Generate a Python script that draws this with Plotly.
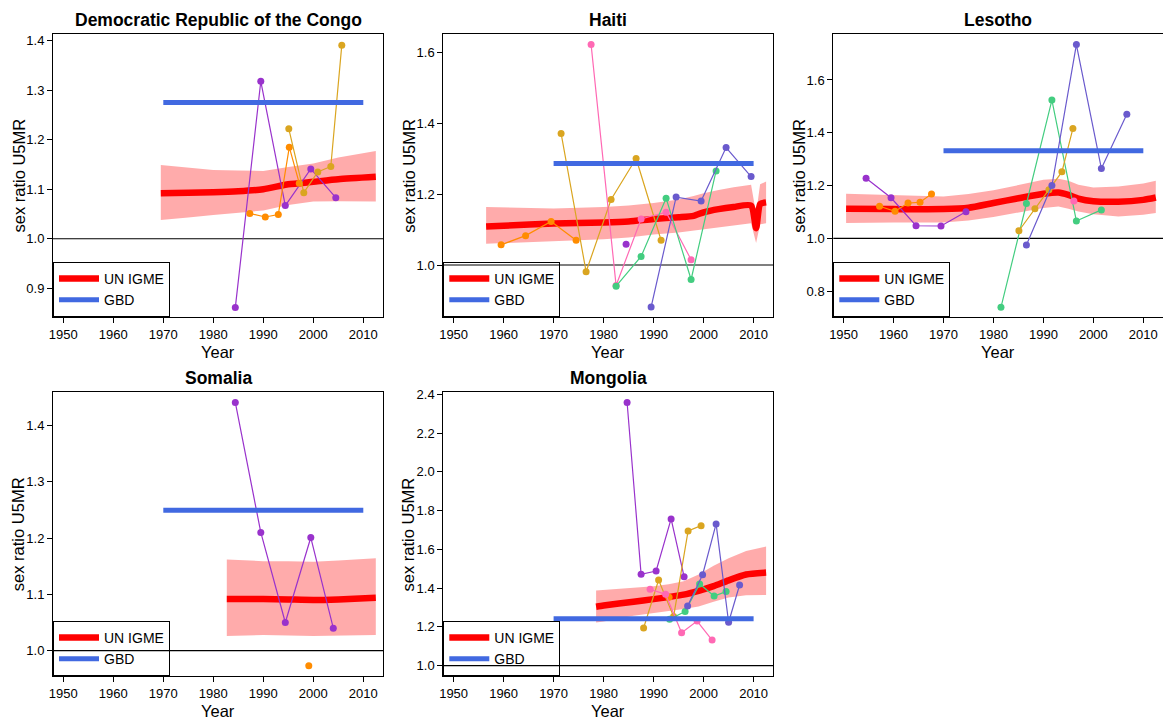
import plotly.graph_objects as go

# ---------------- DATA ----------------
X_TICKS = [1950, 1960, 1970, 1980, 1990, 2000, 2010]
GBD_YEARS = [1970, 2010]
REF_LINE = 1.0

# Democratic Republic of the Congo
DRC_IGME_YEAR = [1969.5, 1975, 1980, 1985, 1990, 1995, 2000, 2005, 2012.5]
DRC_IGME_MED = [1.092, 1.093, 1.094, 1.096, 1.100, 1.110, 1.115, 1.120, 1.125]
DRC_IGME_LO = [1.038, 1.043, 1.048, 1.053, 1.057, 1.068, 1.075, 1.076, 1.075]
DRC_IGME_HI = [1.149, 1.143, 1.139, 1.138, 1.137, 1.145, 1.152, 1.164, 1.177]
DRC_GBD = 1.275
DRC_YTICKS = [0.9, 1.0, 1.1, 1.2, 1.3, 1.4]
DRC_SERIES = [
    ("A", [1984.4, 1989.5, 1994.4, 1999.5, 2004.5], [0.861, 1.318, 1.067, 1.141, 1.083]),
    ("B", [1987.3, 1990.4, 1993.0, 1995.2, 1997.2], [1.051, 1.044, 1.049, 1.185, 1.112]),
    ("C", [1995.1, 1998.1, 2000.9, 2003.5, 2005.7], [1.222, 1.093, 1.135, 1.146, 1.391]),
]

# Haiti
HAITI_IGME_YEAR = [1956.5, 1960, 1970, 1980, 1985, 1990, 1995, 1998, 2000, 2003, 2006, 2009.5, 2010.5, 2011.3, 2012.5]
HAITI_IGME_MED = [1.109, 1.111, 1.117, 1.120, 1.123, 1.130, 1.135, 1.139, 1.149, 1.158, 1.164, 1.168, 1.104, 1.172, 1.177]
HAITI_IGME_LO = [1.060, 1.062, 1.067, 1.073, 1.078, 1.086, 1.092, 1.097, 1.100, 1.107, 1.112, 1.118, 1.062, 1.115, 1.118]
HAITI_IGME_HI = [1.164, 1.163, 1.160, 1.164, 1.168, 1.175, 1.185, 1.195, 1.203, 1.212, 1.220, 1.227, 1.145, 1.228, 1.236]
HAITI_GBD = 1.287
HAITI_YTICKS = [1.0, 1.2, 1.4, 1.6]
HAITI_SERIES = [
    ("B", [1959.5, 1964.4, 1969.5, 1974.5], [1.057, 1.083, 1.123, 1.070]),
    ("C", [1971.5, 1976.5, 1981.5, 1986.5, 1991.5], [1.372, 0.981, 1.185, 1.301, 1.070]),
    ("D", [1977.5, 1982.5, 1987.5, 1992.5, 1997.5], [1.623, 0.942, 1.130, 1.149, 1.015]),
    ("A", [1984.5], [1.059]),
    ("E", [1982.5, 1987.5, 1992.5, 1997.5, 2002.5], [0.940, 1.024, 1.189, 0.959, 1.266]),
    ("F", [1989.5, 1994.5, 1999.5, 2004.5, 2009.5], [0.881, 1.192, 1.181, 1.332, 1.250]),
]

# Lesotho
LESOTHO_IGME_YEAR = [1950.5, 1960, 1970, 1975, 1980, 1985, 1990, 1993, 1995, 1997, 2000, 2005, 2010, 2012.5]
LESOTHO_IGME_MED = [1.112, 1.111, 1.111, 1.116, 1.134, 1.152, 1.169, 1.174, 1.165, 1.151, 1.141, 1.139, 1.146, 1.155]
LESOTHO_IGME_LO = [1.058, 1.060, 1.060, 1.068, 1.081, 1.098, 1.115, 1.121, 1.112, 1.102, 1.092, 1.083, 1.090, 1.096]
LESOTHO_IGME_HI = [1.169, 1.165, 1.159, 1.168, 1.182, 1.202, 1.222, 1.226, 1.218, 1.203, 1.193, 1.197, 1.208, 1.218]
LESOTHO_GBD = 1.3315
LESOTHO_YTICKS = [0.8, 1.0, 1.2, 1.4, 1.6]
LESOTHO_SERIES = [
    ("A", [1954.5, 1959.5, 1964.5, 1969.5, 1974.5], [1.228, 1.154, 1.048, 1.047, 1.101]),
    ("B", [1957.2, 1960.3, 1962.9, 1965.3, 1967.6], [1.122, 1.103, 1.134, 1.137, 1.168]),
    ("E", [1981.5, 1986.6, 1991.7, 1996.6, 2001.6], [0.739, 1.132, 1.524, 1.066, 1.108]),
    ("C", [1985.1, 1988.3, 1991.1, 1993.7, 1995.9], [1.029, 1.112, 1.184, 1.252, 1.416]),
    ("F", [1986.6, 1991.7, 1996.6, 2001.6, 2006.7], [0.975, 1.200, 1.734, 1.265, 1.470]),
    ("D", [1996.1], [1.142]),
]

# Somalia
SOMALIA_IGME_YEAR = [1982.7, 1990, 1995, 2000, 2005, 2012.5]
SOMALIA_IGME_MED = [1.092, 1.092, 1.091, 1.090, 1.091, 1.094]
SOMALIA_IGME_LO = [1.026, 1.028, 1.027, 1.026, 1.027, 1.028]
SOMALIA_IGME_HI = [1.162, 1.159, 1.159, 1.158, 1.160, 1.164]
SOMALIA_GBD = 1.2495
SOMALIA_YTICKS = [1.0, 1.1, 1.2, 1.3, 1.4]
SOMALIA_SERIES = [
    ("A", [1984.4, 1989.5, 1994.4, 1999.5, 2004.0], [1.441, 1.210, 1.050, 1.201, 1.040]),
    ("B", [1999.1], [0.973]),
]

# Mongolia
MONGOLIA_IGME_YEAR = [1978.5, 1980, 1986, 1990, 1993, 1996, 1999, 2002, 2005, 2008.5, 2012.5]
MONGOLIA_IGME_MED = [1.304, 1.310, 1.330, 1.343, 1.354, 1.366, 1.386, 1.410, 1.440, 1.470, 1.480]
MONGOLIA_IGME_LO = [1.222, 1.228, 1.258, 1.272, 1.282, 1.292, 1.305, 1.330, 1.352, 1.363, 1.365]
MONGOLIA_IGME_HI = [1.387, 1.390, 1.402, 1.410, 1.420, 1.435, 1.470, 1.515, 1.554, 1.592, 1.614]
MONGOLIA_GBD = 1.2425
MONGOLIA_YTICKS = [1.0, 1.2, 1.4, 1.6, 1.8, 2.0, 2.2, 2.4]
MONGOLIA_SERIES = [
    ("A", [1984.7, 1987.5, 1990.5, 1993.5, 1996.1], [2.357, 1.471, 1.488, 1.757, 1.459]),
    ("C", [1988.0, 1991.0, 1994.0, 1996.9, 1999.5], [1.194, 1.442, 1.253, 1.695, 1.722]),
    ("B", [1993.1], [1.353]),
    ("D", [1989.3, 1992.4, 1995.6, 1998.7, 2001.7], [1.394, 1.368, 1.170, 1.230, 1.132]),
    ("E", [1993.2, 1996.3, 1999.2, 2002.1, 2004.5], [1.239, 1.279, 1.421, 1.359, 1.382]),
    ("F", [1996.8, 1999.8, 2002.5, 2005.0, 2007.2], [1.308, 1.469, 1.731, 1.224, 1.416]),
]

# ---------------- STYLE ----------------
SOURCE_COLORS = {"A": "#9932CC", "B": "#FF8C00", "C": "#DAA520",
                 "D": "#FF69B4", "E": "#43CD80", "F": "#6A5ACD"}
FONT = "Liberation Sans, Arial, Helvetica, sans-serif"
W, H = 1163, 719

PANELS = [
    dict(title="Democratic Republic of the Congo", year=DRC_IGME_YEAR, med=DRC_IGME_MED, lo=DRC_IGME_LO,
         hi=DRC_IGME_HI, gbd=DRC_GBD, yticks=DRC_YTICKS, series=DRC_SERIES,
         px=(53, 383), py=(34, 317), yrange=(0.842, 1.4135)),
    dict(title="Haiti", year=HAITI_IGME_YEAR, med=HAITI_IGME_MED, lo=HAITI_IGME_LO,
         hi=HAITI_IGME_HI, gbd=HAITI_GBD, yticks=HAITI_YTICKS, series=HAITI_SERIES,
         px=(443.3, 773.3), py=(34, 317), yrange=(0.853, 1.653)),
    dict(title="Lesotho", year=LESOTHO_IGME_YEAR, med=LESOTHO_IGME_MED, lo=LESOTHO_IGME_LO,
         hi=LESOTHO_IGME_HI, gbd=LESOTHO_GBD, yticks=LESOTHO_YTICKS, series=LESOTHO_SERIES,
         px=(833.3, 1163), py=(34, 317), yrange=(0.7025, 1.774)),
    dict(title="Somalia", year=SOMALIA_IGME_YEAR, med=SOMALIA_IGME_MED, lo=SOMALIA_IGME_LO,
         hi=SOMALIA_IGME_HI, gbd=SOMALIA_GBD, yticks=SOMALIA_YTICKS, series=SOMALIA_SERIES,
         px=(53, 383), py=(392.3, 676), yrange=(0.955, 1.459)),
    dict(title="Mongolia", year=MONGOLIA_IGME_YEAR, med=MONGOLIA_IGME_MED, lo=MONGOLIA_IGME_LO,
         hi=MONGOLIA_IGME_HI, gbd=MONGOLIA_GBD, yticks=MONGOLIA_YTICKS, series=MONGOLIA_SERIES,
         px=(443.3, 773.3), py=(392.3, 676), yrange=(0.9466, 2.410)),
]
X_RANGE = (1947.94, 2013.94)

fig = go.Figure()
annotations = []
shapes = []
layout_extra = {}

for i, p in enumerate(PANELS, start=1):
    sfx = "" if i == 1 else str(i)
    xa, ya = "x" + sfx, "y" + sfx
    lg = "legend" + sfx
    # band
    fig.add_trace(go.Scatter(x=p["year"] + p["year"][::-1], y=p["hi"] + p["lo"][::-1],
                             fill="toself", fillcolor="rgba(255,0,0,0.33)", line=dict(width=0),
                             mode="lines", hoverinfo="skip", showlegend=False, xaxis=xa, yaxis=ya))
    # UN IGME
    fig.add_trace(go.Scatter(x=p["year"], y=p["med"], mode="lines", name="UN IGME",
                             line=dict(color="#FF0000", width=6.5, shape="spline", smoothing=0.6),
                             legend=lg, showlegend=True, xaxis=xa, yaxis=ya))
    # data series
    for src, yrs, vals in p["series"]:
        fig.add_trace(go.Scatter(x=yrs, y=vals, mode="lines+markers",
                                 line=dict(color=SOURCE_COLORS[src], width=1.2),
                                 marker=dict(color=SOURCE_COLORS[src], size=7),
                                 showlegend=False, xaxis=xa, yaxis=ya))
    # GBD
    fig.add_trace(go.Scatter(x=GBD_YEARS, y=[p["gbd"]] * len(GBD_YEARS), mode="lines", name="GBD",
                             line=dict(color="#4169E1", width=5),
                             legend=lg, showlegend=True, xaxis=xa, yaxis=ya))

    x0, x1 = p["px"][0] / W, p["px"][1] / W
    y0, y1 = 1 - p["py"][1] / H, 1 - p["py"][0] / H
    axis_common = dict(showline=True, mirror=True, linecolor="black", linewidth=1,
                       ticks="outside", ticklen=5, tickcolor="black", tickwidth=1,
                       showgrid=False, zeroline=False, automargin=False,
                       tickfont=dict(family=FONT, size=13, color="black"))
    layout_extra["xaxis" + sfx] = dict(domain=[x0, min(x1, 1.0)], range=list(X_RANGE),
                                       tickvals=X_TICKS, anchor=ya, **axis_common)
    layout_extra["yaxis" + sfx] = dict(domain=[y0, y1], range=list(p["yrange"]),
                                       tickvals=p["yticks"], tickformat=".1f", anchor=xa,
                                       **axis_common)
    layout_extra[lg] = dict(x=x0, y=y0, xanchor="left", yanchor="bottom", xref="paper", yref="paper",
                            bgcolor="rgba(0,0,0,0)", bordercolor="black", borderwidth=1,
                            font=dict(family=FONT, size=14, color="black"), itemwidth=40,
                            traceorder="normal")
    # reference line at 1.0
    shapes.append(dict(type="line", xref=xa + " domain", yref=ya, x0=0, x1=1, y0=REF_LINE, y1=REF_LINE,
                       line=dict(color="black", width=1.2), layer="below"))
    cx = (p["px"][0] + p["px"][1]) / 2 / W
    if p["px"][1] >= W:
        cx = (p["px"][0] + p["px"][0] + 330) / 2 / W
    # title
    annotations.append(dict(text="<b>" + p["title"] + "</b>", x=cx, y=1 - (p["py"][0] - 14) / H,
                            xref="paper", yref="paper", xanchor="center", yanchor="middle",
                            showarrow=False, font=dict(family=FONT, size=17.5, color="black")))
    # x title
    annotations.append(dict(text="Year", x=cx, y=1 - (p["py"][1] + 35) / H,
                            xref="paper", yref="paper", xanchor="center", yanchor="middle",
                            showarrow=False, font=dict(family=FONT, size=16.5, color="black")))
    # y title
    annotations.append(dict(text="sex ratio U5MR", x=(p["px"][0] - 35) / W,
                            y=1 - (p["py"][0] + p["py"][1]) / 2 / H,
                            xref="paper", yref="paper", xanchor="center", yanchor="middle",
                            textangle=-90, showarrow=False,
                            font=dict(family=FONT, size=16.5, color="black")))

fig.update_layout(width=W, height=H, margin=dict(l=0, r=0, t=0, b=0, autoexpand=False),
                  paper_bgcolor="white", plot_bgcolor="white",
                  annotations=annotations, shapes=shapes, **layout_extra)

fig.write_html("out.html", post_script="document.body.style.margin='0';",
               config={"displayModeBar": False})
